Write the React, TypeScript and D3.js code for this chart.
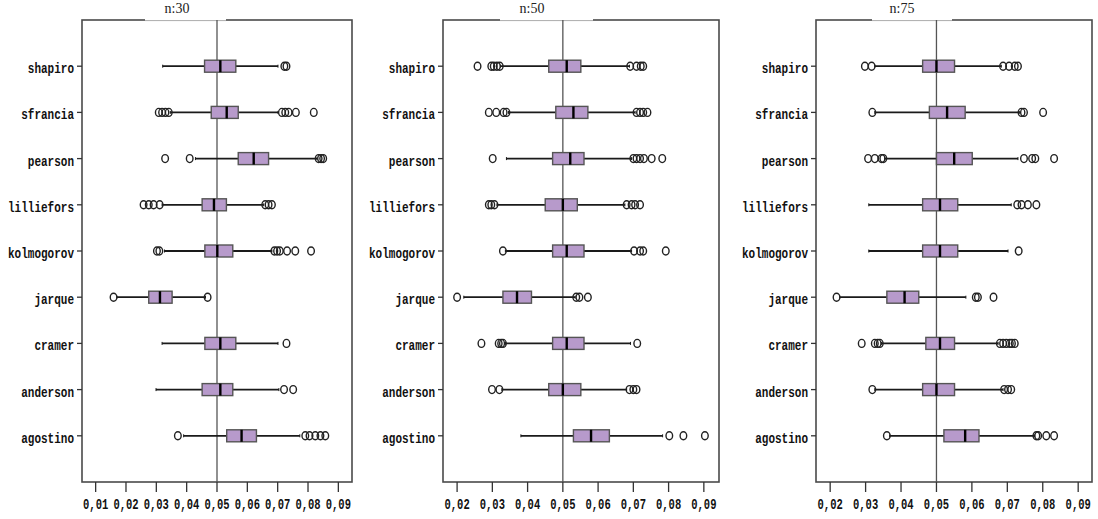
import React from "react";
import * as d3 from "d3";

const categories = ["shapiro", "sfrancia", "pearson", "lilliefors", "kolmogorov", "jarque", "cramer", "anderson", "agostino"];
const panelTitles = ["n:30", "n:50", "n:75"];

const ticksN30 = [0.01, 0.02, 0.03, 0.04, 0.05, 0.06, 0.07, 0.08, 0.09];
const ticksN50 = [0.02, 0.03, 0.04, 0.05, 0.06, 0.07, 0.08, 0.09];
const ticksN75 = [0.02, 0.03, 0.04, 0.05, 0.06, 0.07, 0.08, 0.09];

const referenceValue = 0.05;

// [whisker low, q1, median, q3, whisker high]
const statsN30 = [
  [0.0321, 0.0459, 0.0511, 0.0562, 0.0701],
  [0.0346, 0.0481, 0.0532, 0.057, 0.0701],
  [0.0429, 0.057, 0.0621, 0.067, 0.083],
  [0.0319, 0.0451, 0.049, 0.0531, 0.0654],
  [0.0327, 0.046, 0.0501, 0.0552, 0.0681],
  [0.017, 0.0275, 0.0312, 0.0352, 0.0462],
  [0.0319, 0.046, 0.0511, 0.0562, 0.0701],
  [0.0299, 0.0451, 0.0511, 0.0552, 0.0704],
  [0.039, 0.0532, 0.0581, 0.063, 0.0773],
];
const outliersN30 = [
  [0.0722, 0.0729],
  [0.0308, 0.0319, 0.033, 0.0341, 0.0714, 0.0725, 0.0736, 0.076, 0.0819],
  [0.0329, 0.041, 0.0835, 0.0843, 0.085],
  [0.0258, 0.0275, 0.0291, 0.0311, 0.0659, 0.067, 0.0681],
  [0.0302, 0.031, 0.0689, 0.0698, 0.0707, 0.0731, 0.0758, 0.081],
  [0.0159, 0.0469],
  [0.0729],
  [0.0721, 0.0751],
  [0.0371, 0.0791, 0.0805, 0.0824, 0.0841, 0.0857],
];

const statsN50 = [
  [0.0323, 0.046, 0.0511, 0.0551, 0.0689],
  [0.0346, 0.048, 0.053, 0.0571, 0.0705],
  [0.034, 0.0471, 0.0521, 0.056, 0.0695],
  [0.0313, 0.045, 0.05, 0.0541, 0.0676],
  [0.0337, 0.0471, 0.0511, 0.056, 0.0695],
  [0.0219, 0.033, 0.037, 0.0411, 0.0535],
  [0.0337, 0.0471, 0.0511, 0.056, 0.0692],
  [0.0327, 0.046, 0.05, 0.0551, 0.0681],
  [0.0381, 0.053, 0.058, 0.0632, 0.0783],
];
const outliersN50 = [
  [0.0258, 0.0297, 0.0304, 0.0313, 0.0321, 0.0691, 0.0709, 0.0721, 0.0728],
  [0.029, 0.0311, 0.0332, 0.034, 0.0709, 0.0719, 0.0728, 0.074],
  [0.0301, 0.07, 0.0709, 0.0719, 0.073, 0.0752, 0.0782],
  [0.029, 0.0297, 0.0306, 0.0681, 0.0695, 0.0705, 0.0719],
  [0.033, 0.0702, 0.0719, 0.0728, 0.0792],
  [0.02, 0.0538, 0.0547, 0.0571],
  [0.0269, 0.0318, 0.0325, 0.033, 0.0711],
  [0.0299, 0.032, 0.0689, 0.07, 0.0709],
  [0.0802, 0.0842, 0.0903],
];

const statsN75 = [
  [0.0326, 0.0461, 0.05, 0.0551, 0.0683],
  [0.0326, 0.048, 0.053, 0.0581, 0.0735],
  [0.0354, 0.05, 0.055, 0.0601, 0.073],
  [0.0309, 0.0461, 0.051, 0.056, 0.0711],
  [0.0309, 0.0461, 0.051, 0.056, 0.0702],
  [0.0227, 0.036, 0.041, 0.045, 0.0583],
  [0.0345, 0.047, 0.051, 0.0551, 0.0674],
  [0.0326, 0.0461, 0.05, 0.0551, 0.0688],
  [0.0368, 0.0521, 0.0581, 0.062, 0.0777],
];
const outliersN75 = [
  [0.0298, 0.0317, 0.0688, 0.0705, 0.0721, 0.073],
  [0.0319, 0.074, 0.0747, 0.0801],
  [0.0307, 0.0326, 0.0345, 0.035, 0.0747, 0.077, 0.0779, 0.0832],
  [0.0728, 0.074, 0.0758, 0.0782],
  [0.0732],
  [0.0218, 0.0611, 0.0617, 0.0661],
  [0.0289, 0.0326, 0.0334, 0.034, 0.0679, 0.0688, 0.0697, 0.0707, 0.0713, 0.0721],
  [0.0319, 0.0691, 0.0702, 0.0711],
  [0.036, 0.0782, 0.0787, 0.081, 0.0832],
];

const panels = [
  { title: panelTitles[0], stats: statsN30, outliers: outliersN30, ticks: ticksN30, x0: 82, x1: 352, domain: [0.0055, 0.0945], titleX: 177, gap: [145, 226] },
  { title: panelTitles[1], stats: statsN50, outliers: outliersN50, ticks: ticksN50, x0: 443, x1: 719, domain: [0.016, 0.0943], titleX: 532, gap: [500, 593] },
  { title: panelTitles[2], stats: statsN75, outliers: outliersN75, ticks: ticksN75, x0: 816, x1: 1092, domain: [0.016, 0.0939], titleX: 902, gap: [872, 952] },
];

const TOP = 20;
const BOTTOM = 482;
const BOX_H = 12;
const FILL = "#b79acb";
const monoFont = "'Liberation Mono', 'DejaVu Sans Mono', monospace";

function Panel({ p }: { p: typeof panels[number] }) {
  const x = d3.scaleLinear().domain(p.domain).range([p.x0, p.x1]);
  const y = d3.scalePoint<string>().domain(categories).range([TOP, BOTTOM]).padding(1);
  const fmt = (v: number) => d3.format(".2f")(v).replace(".", ",");
  return (
    <g>
      {/* frame */}
      <rect x={p.x0} y={TOP} width={p.x1 - p.x0} height={BOTTOM - TOP} fill="white" stroke="#4a4a4a" strokeWidth={1.6} />
      {/* title gap */}
      <rect x={p.gap[0]} y={0} width={p.gap[1] - p.gap[0]} height={TOP + 0.9} fill="white" />
      <line x1={p.gap[0]} x2={p.gap[1]} y1={TOP + 0.6} y2={TOP + 0.6} stroke="#9a9a9a" strokeWidth={0.8} />
      <text x={p.titleX} y={13} textAnchor="middle" fontFamily="'Liberation Serif', 'DejaVu Serif', serif" fontSize={14} fill="#222">
        {p.title}
      </text>
      {/* reference line */}
      <line x1={x(referenceValue)} x2={x(referenceValue)} y1={TOP} y2={BOTTOM} stroke="#555" strokeWidth={1.3} />
      {/* x ticks */}
      {p.ticks.map((t) => (
        <g key={t}>
          <line x1={x(t)} x2={x(t)} y1={BOTTOM} y2={BOTTOM + 10} stroke="#333" strokeWidth={1.3} />
          <text transform={`translate(${x(t)},508.5) scale(1,1.4)`} textAnchor="middle" fontFamily={monoFont} fontWeight="bold" fontSize={10.5} fill="#111">
            {fmt(t)}
          </text>
        </g>
      ))}
      {/* category labels */}
      {categories.map((c) => (
        <g key={c}>
          <line x1={p.x0 - 5} x2={p.x0} y1={y(c)!} y2={y(c)!} stroke="#333" strokeWidth={1.3} />
          <text transform={`translate(${p.x0 - 8},${y(c)! + 7}) scale(1,1.4)`} textAnchor="end" fontFamily={monoFont} fontWeight="bold" fontSize={11} fill="#111">
            {c}
          </text>
        </g>
      ))}
      {/* boxes */}
      {categories.map((c, i) => {
        const [lo, q1, med, q3, hi] = p.stats[i];
        const cy = y(c)!;
        return (
          <g key={c}>
            <line x1={x(lo)} x2={x(q1)} y1={cy} y2={cy} stroke="#1a1a1a" strokeWidth={1.8} />
            <line x1={x(q3)} x2={x(hi)} y1={cy} y2={cy} stroke="#1a1a1a" strokeWidth={1.8} />
            <line x1={x(lo)} x2={x(lo)} y1={cy - 1.5} y2={cy + 1.5} stroke="#1a1a1a" strokeWidth={1} />
            <line x1={x(hi)} x2={x(hi)} y1={cy - 1.5} y2={cy + 1.5} stroke="#1a1a1a" strokeWidth={1} />
            <rect x={x(q1)} y={cy - BOX_H / 2} width={x(q3) - x(q1)} height={BOX_H} fill={FILL} stroke="#555" strokeWidth={1.4} />
            <line x1={x(med)} x2={x(med)} y1={cy - BOX_H / 2} y2={cy + BOX_H / 2} stroke="#000" strokeWidth={2.4} />
            {p.outliers[i].map((o, k) => (
              <ellipse key={k} cx={x(o)} cy={cy} rx={3.3} ry={4} fill="none" stroke="#222" strokeWidth={1.4} />
            ))}
          </g>
        );
      })}
    </g>
  );
}

export default function App() {
  return (
    <svg width={1098} height={519} style={{ position: "absolute", left: 0, top: 0, background: "white" }}>
      <rect x={0} y={0} width={1098} height={519} fill="white" />
      {panels.map((p) => (
        <Panel key={p.title} p={p} />
      ))}
    </svg>
  );
}
